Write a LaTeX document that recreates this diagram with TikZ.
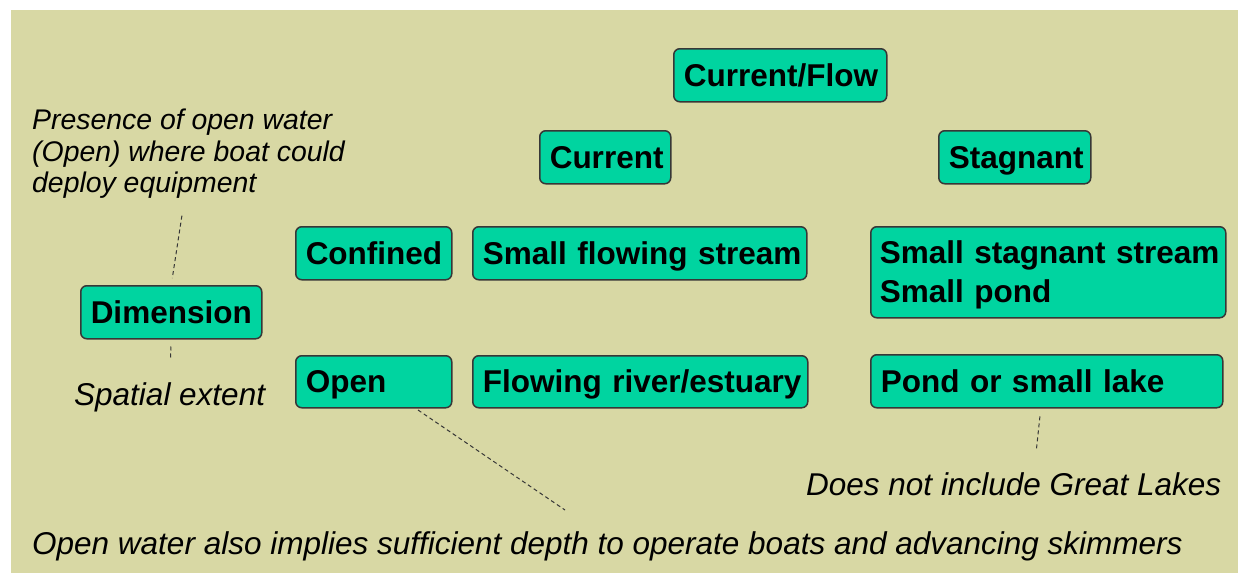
\documentclass[tikz,border=0pt]{standalone}
\usepackage{fontspec}
\setmainfont{Liberation Sans}
\usepackage{xcolor}
\definecolor{bgbeige}{RGB}{216,216,164}
\definecolor{boxgreen}{RGB}{0,212,160}
\definecolor{edgegray}{RGB}{55,55,55}

\begin{document}
\begin{tikzpicture}[x=1pt,y=1pt,yscale=-1,xscale=1,
  box/.style={draw=edgegray, fill=boxgreen, line width=1.5pt, rounded corners=6pt,
    inner xsep=10pt, inner ysep=0pt, align=left, minimum height=53pt,
    text height=26pt, text depth=4pt,
    font=\fontsize{31.5}{39}\selectfont\bfseries},
  remark/.style={inner sep=0pt, align=left, font=\fontsize{31.5}{31.5}\selectfont\itshape},
  pointer/.style={draw=edgegray, line width=1pt, dash pattern=on 4pt off 3pt}]
\useasboundingbox (0,0) rectangle (1238,573);
%Shape: Rectangle (background)
\fill [bgbeige] (11,10) rectangle (1238,573);

% Box Nodes
\draw (673,48) node [anchor=north west] [box, text width=193pt] (flow) {\mbox{Current/Flow}};
\draw (539,130) node [anchor=north west] [box, text width=111pt] (current) {Current};
\draw (938,130) node [anchor=north west] [box, text width=132pt] (stagnant) {Stagnant};
\draw (295,226) node [anchor=north west] [box, text width=136pt] (confined) {Confined};
\draw (472,226) node [anchor=north west] [box, text width=314pt] (smallflow) {\mbox{Small flowing stream}};
\draw (870,226) node [anchor=north west] [box, inner xsep=9pt, text width=337pt, minimum height=91pt, text depth=43pt] (smallstag) {\mbox{Small stagnant stream}\\Small pond};
\draw (80,285) node [anchor=north west] [box, text width=161pt] (dimension) {Dimension};
\draw (295,355) node [anchor=north west] [box, text width=136pt, minimum height=52pt] (open) {Open};
\draw (472,355) node [anchor=north west] [box, text width=315pt, minimum height=52pt] (river) {\mbox{Flowing river/estuary}};
\draw (870,354) node [anchor=north west] [box, text width=332pt] (pondlake) {\mbox{Pond or small lake}};

% Text Node
\draw (32,109) node [anchor=north west] [remark, font=\fontsize{28.4}{31.5}\selectfont\itshape] (presence) {Presence of open water\\(Open) where boat could\\deploy equipment};
% Text Node
\draw (74,397) node [anchor=west] [remark] (spatial) {Spatial extent};
% Text Node
\draw (806,484) node [anchor=west] [remark] (lakesnote) {Does not include Great Lakes};
% Text Node
\draw (32,546) node [anchor=west] [remark] (opennote) {Open water also implies sufficient depth to operate boats and advancing skimmers};

%Straight Lines
\coordinate (openfoot) at (418,410);
\coordinate (notetip) at (565,510);
\draw [pointer, shorten <=17pt, shorten >=7pt] ([xshift=-4pt]presence.south) -- (dimension.north);
\draw [pointer, shorten <=7pt, shorten >=22pt] (dimension.south) -- (spatial.north);
\draw [pointer] (openfoot) -- (notetip);
\draw [pointer, shorten <=8pt, shorten >=22pt] ([xshift=-6pt]pondlake.south) -- (lakesnote.north -| 1034,0);

\end{tikzpicture}
\end{document}
